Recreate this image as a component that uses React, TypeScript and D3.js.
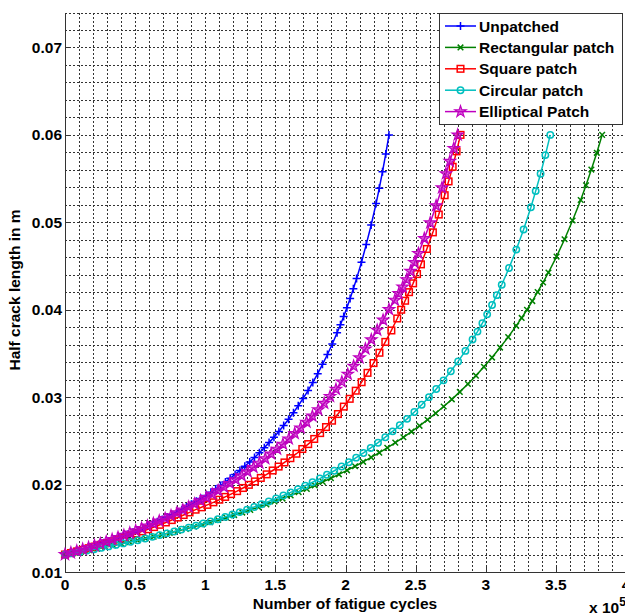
import React from "react";
import * as d3 from "d3";

// number of fatigue cycles (x 10^5) and half crack length (m)
const cyclesUnpatched = [0, 0.035, 0.069, 0.104, 0.139, 0.173, 0.208, 0.243, 0.277, 0.312, 0.347, 0.381, 0.416, 0.451, 0.485, 0.520, 0.554, 0.589, 0.624, 0.658, 0.693, 0.728, 0.762, 0.797, 0.832, 0.866, 0.901, 0.936, 0.970, 1.005, 1.040, 1.074, 1.109, 1.144, 1.178, 1.213, 1.247, 1.282, 1.317, 1.351, 1.386, 1.421, 1.455, 1.490, 1.525, 1.559, 1.594, 1.629, 1.663, 1.698, 1.733, 1.767, 1.802, 1.836, 1.871, 1.906, 1.940, 1.964, 1.987, 2.010, 2.033, 2.056, 2.079, 2.114, 2.148, 2.183, 2.218, 2.241, 2.264, 2.287, 2.310];
const crackUnpatched = [0.01200, 0.01215, 0.01231, 0.01247, 0.01264, 0.01281, 0.01299, 0.01316, 0.01335, 0.01354, 0.01373, 0.01393, 0.01414, 0.01435, 0.01456, 0.01479, 0.01502, 0.01525, 0.01550, 0.01575, 0.01601, 0.01628, 0.01655, 0.01684, 0.01713, 0.01744, 0.01775, 0.01808, 0.01841, 0.01876, 0.01913, 0.01950, 0.01989, 0.02030, 0.02072, 0.02116, 0.02162, 0.02209, 0.02259, 0.02310, 0.02365, 0.02421, 0.02480, 0.02542, 0.02607, 0.02676, 0.02747, 0.02823, 0.02902, 0.02986, 0.03075, 0.03169, 0.03269, 0.03375, 0.03488, 0.03608, 0.03737, 0.03828, 0.03923, 0.04023, 0.04128, 0.04239, 0.04356, 0.04543, 0.04747, 0.04969, 0.05214, 0.05390, 0.05579, 0.05782, 0.06000];

const cyclesRectangular = [0, 0.057, 0.115, 0.172, 0.230, 0.287, 0.345, 0.402, 0.460, 0.517, 0.575, 0.632, 0.689, 0.747, 0.804, 0.862, 0.919, 0.977, 1.034, 1.092, 1.149, 1.206, 1.264, 1.321, 1.379, 1.436, 1.494, 1.551, 1.609, 1.666, 1.724, 1.781, 1.838, 1.896, 1.953, 2.011, 2.068, 2.126, 2.183, 2.241, 2.298, 2.355, 2.413, 2.470, 2.528, 2.585, 2.643, 2.700, 2.758, 2.815, 2.873, 2.930, 2.987, 3.045, 3.102, 3.160, 3.217, 3.256, 3.294, 3.332, 3.370, 3.409, 3.447, 3.505, 3.562, 3.619, 3.677, 3.715, 3.753, 3.792, 3.830];
const crackRectangular = [0.01200, 0.01216, 0.01233, 0.01250, 0.01267, 0.01286, 0.01304, 0.01323, 0.01342, 0.01362, 0.01383, 0.01404, 0.01425, 0.01448, 0.01470, 0.01494, 0.01518, 0.01543, 0.01569, 0.01595, 0.01623, 0.01651, 0.01680, 0.01710, 0.01741, 0.01773, 0.01806, 0.01840, 0.01876, 0.01912, 0.01950, 0.01990, 0.02031, 0.02073, 0.02117, 0.02163, 0.02210, 0.02260, 0.02312, 0.02365, 0.02421, 0.02480, 0.02541, 0.02605, 0.02672, 0.02742, 0.02816, 0.02893, 0.02975, 0.03060, 0.03150, 0.03246, 0.03347, 0.03453, 0.03567, 0.03687, 0.03816, 0.03906, 0.04000, 0.04099, 0.04203, 0.04312, 0.04426, 0.04608, 0.04806, 0.05021, 0.05255, 0.05424, 0.05603, 0.05795, 0.06000];

const cyclesSquare = [0, 0.042, 0.085, 0.127, 0.169, 0.211, 0.254, 0.296, 0.338, 0.381, 0.423, 0.465, 0.508, 0.550, 0.592, 0.635, 0.677, 0.719, 0.761, 0.804, 0.846, 0.888, 0.931, 0.973, 1.015, 1.058, 1.100, 1.142, 1.184, 1.227, 1.269, 1.311, 1.354, 1.396, 1.438, 1.481, 1.523, 1.565, 1.607, 1.650, 1.692, 1.734, 1.777, 1.819, 1.861, 1.904, 1.946, 1.988, 2.030, 2.073, 2.115, 2.157, 2.200, 2.242, 2.284, 2.327, 2.369, 2.397, 2.425, 2.453, 2.482, 2.510, 2.538, 2.580, 2.623, 2.665, 2.707, 2.735, 2.764, 2.792, 2.820];
const crackSquare = [0.01200, 0.01217, 0.01235, 0.01253, 0.01272, 0.01291, 0.01311, 0.01331, 0.01352, 0.01373, 0.01395, 0.01418, 0.01441, 0.01465, 0.01489, 0.01514, 0.01540, 0.01567, 0.01594, 0.01623, 0.01652, 0.01682, 0.01713, 0.01740, 0.01768, 0.01797, 0.01827, 0.01859, 0.01891, 0.01925, 0.01961, 0.01997, 0.02036, 0.02076, 0.02117, 0.02161, 0.02206, 0.02253, 0.02302, 0.02353, 0.02407, 0.02463, 0.02522, 0.02589, 0.02658, 0.02731, 0.02807, 0.02892, 0.02981, 0.03074, 0.03171, 0.03278, 0.03390, 0.03508, 0.03632, 0.03763, 0.03900, 0.04000, 0.04103, 0.04201, 0.04302, 0.04408, 0.04519, 0.04695, 0.04885, 0.05089, 0.05310, 0.05468, 0.05635, 0.05812, 0.06000];

const cyclesCircular = [0, 0.052, 0.104, 0.156, 0.208, 0.260, 0.311, 0.363, 0.415, 0.467, 0.519, 0.571, 0.623, 0.675, 0.727, 0.779, 0.830, 0.882, 0.934, 0.986, 1.038, 1.090, 1.142, 1.194, 1.246, 1.298, 1.349, 1.401, 1.453, 1.505, 1.557, 1.609, 1.661, 1.713, 1.765, 1.817, 1.868, 1.920, 1.972, 2.024, 2.076, 2.128, 2.180, 2.232, 2.284, 2.336, 2.387, 2.439, 2.491, 2.543, 2.595, 2.647, 2.699, 2.751, 2.803, 2.855, 2.906, 2.941, 2.976, 3.010, 3.045, 3.079, 3.114, 3.166, 3.218, 3.270, 3.322, 3.356, 3.391, 3.425, 3.460];
const crackCircular = [0.01200, 0.01215, 0.01230, 0.01245, 0.01261, 0.01277, 0.01293, 0.01310, 0.01327, 0.01345, 0.01364, 0.01383, 0.01402, 0.01422, 0.01442, 0.01463, 0.01485, 0.01508, 0.01531, 0.01554, 0.01579, 0.01604, 0.01630, 0.01658, 0.01685, 0.01714, 0.01744, 0.01775, 0.01807, 0.01841, 0.01875, 0.01911, 0.01948, 0.01987, 0.02027, 0.02069, 0.02113, 0.02158, 0.02206, 0.02256, 0.02308, 0.02362, 0.02419, 0.02479, 0.02542, 0.02609, 0.02679, 0.02752, 0.02830, 0.02913, 0.03000, 0.03093, 0.03192, 0.03297, 0.03409, 0.03529, 0.03659, 0.03750, 0.03846, 0.03947, 0.04054, 0.04167, 0.04286, 0.04478, 0.04688, 0.04918, 0.05172, 0.05357, 0.05556, 0.05769, 0.06000];

const cyclesElliptical = [0, 0.042, 0.084, 0.126, 0.168, 0.210, 0.252, 0.294, 0.336, 0.378, 0.420, 0.462, 0.504, 0.546, 0.588, 0.630, 0.672, 0.714, 0.756, 0.798, 0.840, 0.882, 0.924, 0.966, 1.008, 1.050, 1.092, 1.134, 1.176, 1.218, 1.260, 1.302, 1.344, 1.386, 1.428, 1.470, 1.512, 1.554, 1.596, 1.638, 1.680, 1.722, 1.764, 1.806, 1.848, 1.890, 1.932, 1.974, 2.016, 2.058, 2.100, 2.142, 2.184, 2.226, 2.268, 2.310, 2.352, 2.380, 2.408, 2.436, 2.464, 2.492, 2.520, 2.562, 2.604, 2.646, 2.688, 2.716, 2.744, 2.772, 2.800];
const crackElliptical = [0.01200, 0.01220, 0.01240, 0.01260, 0.01281, 0.01303, 0.01325, 0.01348, 0.01372, 0.01396, 0.01420, 0.01446, 0.01472, 0.01499, 0.01527, 0.01555, 0.01584, 0.01614, 0.01645, 0.01677, 0.01710, 0.01744, 0.01779, 0.01815, 0.01852, 0.01890, 0.01930, 0.01971, 0.02013, 0.02056, 0.02101, 0.02148, 0.02196, 0.02246, 0.02297, 0.02351, 0.02406, 0.02463, 0.02523, 0.02585, 0.02649, 0.02715, 0.02784, 0.02856, 0.02931, 0.03009, 0.03090, 0.03175, 0.03263, 0.03355, 0.03451, 0.03552, 0.03657, 0.03767, 0.03882, 0.04003, 0.04110, 0.04185, 0.04260, 0.04345, 0.04440, 0.04540, 0.04645, 0.04815, 0.04995, 0.05190, 0.05395, 0.05556, 0.05698, 0.05846, 0.06000];

const seriesNames = ["Unpatched", "Rectangular patch", "Square patch", "Circular patch", "Elliptical Patch"];
const seriesColors = ["#0000FF", "#008000", "#FF0000", "#00BFBF", "#BF00BF"];
const seriesMarkers = ["plus", "cross", "square", "circle", "star"];

const xTicks = [0, 0.5, 1, 1.5, 2, 2.5, 3, 3.5, 4];
const xTickLabels = ["0", "0.5", "1", "1.5", "2", "2.5", "3", "3.5", "4"];
const yTicks = [0.01, 0.02, 0.03, 0.04, 0.05, 0.06, 0.07];
const yTickLabels = ["0.01", "0.02", "0.03", "0.04", "0.05", "0.06", "0.07"];

const W = 625;
const H = 615;
const plot = { left: 65, right: 626, top: 12.5, bottom: 572 };
const font = "'Liberation Sans', Arial, sans-serif";
const fs = 15.5;

const starPath = d3.symbol().type(d3.symbolStar).size(40)() as string;

const Marker = ({ kind, x, y, color }: { kind: string; x: number; y: number; color: string }) => {
  if (kind === "plus")
    return <path d={`M${x - 4},${y}H${x + 4}M${x},${y - 4}V${y + 4}`} stroke={color} strokeWidth={1.5} />;
  if (kind === "cross")
    return <path d={`M${x - 2.8},${y - 2.8}L${x + 2.8},${y + 2.8}M${x - 2.8},${y + 2.8}L${x + 2.8},${y - 2.8}`} stroke={color} strokeWidth={1.5} />;
  if (kind === "square")
    return <rect x={x - 3.3} y={y - 3.3} width={6.6} height={6.6} fill="none" stroke={color} strokeWidth={1.5} />;
  if (kind === "circle")
    return <circle cx={x} cy={y} r={3.2} fill="none" stroke={color} strokeWidth={1.5} />;
  return <path d={starPath} transform={`translate(${x},${y})`} fill={color} fillOpacity={0.6} stroke={color} strokeWidth={1.2} />;
};

export default function App() {
  const xScale = d3.scaleLinear().domain([0, 4]).range([plot.left, plot.right]);
  const yScale = d3.scaleLinear().domain([0.01, 0.074]).range([plot.bottom, plot.top]);

  const series = [
    { cycles: cyclesUnpatched, crack: crackUnpatched },
    { cycles: cyclesRectangular, crack: crackRectangular },
    { cycles: cyclesSquare, crack: crackSquare },
    { cycles: cyclesCircular, crack: crackCircular },
    { cycles: cyclesElliptical, crack: crackElliptical },
  ];

  // minor grid every 0.1 x 10^5 cycles and every 0.002 m
  const gridX = d3.range(1, 41).map((i) => i / 10);
  const gridY = d3.range(1, 33).map((i) => 0.01 + i * 0.002);
  const px = (v: number) => Math.round(v) + 0.5;

  const legend = { x: 439, y: 13, w: 183, h: 111, row: 21.4 };

  return (
    <svg width={W} height={H} style={{ position: "absolute", left: 0, top: 0, background: "#fff" }}>
      {/* dotted grid */}
      <g stroke="#333" strokeWidth={1} strokeDasharray="2,2" shapeRendering="crispEdges">
        {gridX.map((v) => (
          <line key={"gx" + v} x1={px(xScale(v))} x2={px(xScale(v))} y1={plot.top} y2={plot.bottom} />
        ))}
        {gridY.map((v) => (
          <line key={"gy" + v} x1={plot.left} x2={plot.right} y1={px(yScale(v))} y2={px(yScale(v))} />
        ))}
      </g>

      {/* axes */}
      <g stroke="#333" strokeWidth={1} shapeRendering="crispEdges">
        <line x1={plot.left + 0.5} x2={plot.left + 0.5} y1={plot.top} y2={plot.bottom} />
        <line x1={plot.left} x2={plot.right} y1={plot.bottom + 0.5} y2={plot.bottom + 0.5} />
        {xTicks.map((v) => (
          <line key={"xt" + v} x1={px(xScale(v))} x2={px(xScale(v))} y1={plot.bottom} y2={plot.bottom - 5} />
        ))}
        {yTicks.map((v) => (
          <line key={"yt" + v} x1={plot.left} x2={plot.left + 5} y1={px(yScale(v))} y2={px(yScale(v))} />
        ))}
      </g>
      <g fontFamily={font} fontSize={fs} fontWeight="bold" fill="#000">
        {xTicks.map((v, i) => (
          <text key={"xl" + v} x={xScale(v)} y={plot.bottom + 18} textAnchor="middle">
            {xTickLabels[i]}
          </text>
        ))}
        {yTicks.map((v, i) => (
          <text key={"yl" + v} x={plot.left - 3} y={yScale(v) + 5.5} textAnchor="end">
            {yTickLabels[i]}
          </text>
        ))}
        <text x={345} y={608.5} textAnchor="middle">Number of fatigue cycles</text>
        <text x={589} y={613}>
          x 10<tspan dy={-7} fontSize={12}>5</tspan>
        </text>
        <text transform={`translate(20,290) rotate(-90)`} textAnchor="middle">Half crack length in m</text>
      </g>

      {/* curves */}
      {series.map((s, si) => {
        const pts: [number, number][] = s.cycles.map((c, i) => [xScale(c), yScale(s.crack[i])]);
        const path = d3.line()(pts) as string;
        return (
          <g key={"s" + si}>
            <path d={path} fill="none" stroke={seriesColors[si]} strokeWidth={1.5} />
            {pts.map((p, i) => (
              <Marker key={i} kind={seriesMarkers[si]} x={p[0]} y={p[1]} color={seriesColors[si]} />
            ))}
          </g>
        );
      })}

      {/* legend */}
      <g>
        <rect x={legend.x + 0.5} y={legend.y + 0.5} width={legend.w} height={legend.h} fill="#fff" stroke="#333" strokeWidth={1} />
        {seriesNames.map((name, i) => {
          const cy = legend.y + 13 + i * legend.row;
          return (
            <g key={"lg" + i}>
              <line x1={445} x2={476} y1={cy} y2={cy} stroke={seriesColors[i]} strokeWidth={1.5} />
              <Marker kind={seriesMarkers[i]} x={460.5} y={cy} color={seriesColors[i]} />
              <text x={479} y={cy + 5.5} fontFamily={font} fontSize={fs} fontWeight="bold" fill="#000">
                {name}
              </text>
            </g>
          );
        })}
      </g>
    </svg>
  );
}
